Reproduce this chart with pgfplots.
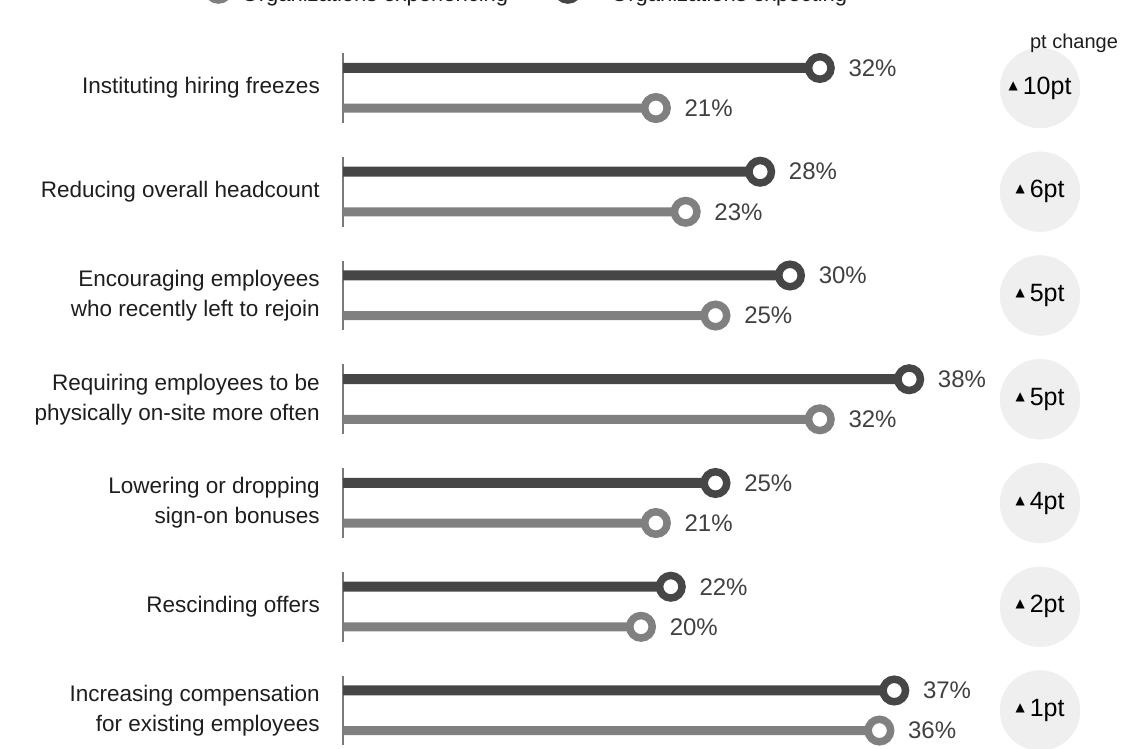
\documentclass[border=0pt]{standalone}
\usepackage{pgfplots}
\pgfplotsset{compat=1.18}
\usepackage{pgfplotstable}
\usepackage{graphicx}
\usepackage{fontspec}
\setmainfont{Liberation Sans}
\newfontfamily\dejavu{DejaVu Sans}
\definecolor{darkc}{HTML}{464646}
\definecolor{greyc}{HTML}{808080}
\definecolor{axc}{HTML}{7A7A7A}
\definecolor{circc}{HTML}{EFEFEF}
\definecolor{labc}{HTML}{1E1E1E}
\definecolor{pctc}{HTML}{404040}
\newcommand\tri{\raisebox{5pt}{\dejavu\fontsize{12}{12}\selectfont ▲}\hspace{5pt}}

\pgfplotstableread{
k now prev chg
0 32 21 10
1 28 23 6
2 30 25 5
3 38 32 5
4 25 21 4
5 22 20 2
6 37 36 1
}\datatable

\begin{document}
\begin{tikzpicture}
\path[use as bounding box] (0pt,0pt) rectangle (1121pt,-749pt);
\clip (0pt,0pt) rectangle (1121pt,-749pt);
\begin{axis}[
  at={(343pt,0pt)}, anchor=north west,
  scale only axis, width=745pt, height=749pt,
  xmin=0, xmax=50, ymin=-0.848, ymax=6.371, y dir=reverse,
  clip=false,
  /pgf/number format/assume math mode=true,
  axis line style={draw=none}, tick style={draw=none}, ytick style={draw=none}, major tick length=0pt,
  xtick=\empty, ytick={0,...,6},
  yticklabels={Instituting hiring freezes, Reducing overall headcount,
    {Encouraging employees\\who recently left to rejoin},
    {Requiring employees to be\\physically on-site more often},
    {Lowering or dropping\\sign-on bonuses},
    Rescinding offers,
    {Increasing compensation\\for existing employees}},
  yticklabel style={align=right, font=\fontsize{22.5}{30}\selectfont, text=labc, inner sep=0pt, xshift=-23pt},
  legend columns=2,
  legend style={at={(axis description cs:-0.1826,1.0120)}, anchor=west, draw=none, fill=none,
    inner sep=0pt, font=\fontsize{22}{26}\selectfont, text=labc,
    /tikz/every even column/.append style={column sep=0pt}},
  legend image code/.code={\draw[#1] plot coordinates {(0pt,5pt)};},
]
% axis segments per group
\addplot[draw=none, mark=none, forget plot,
  error bars/.cd, y dir=both, y fixed=0.337, error mark=none,
  error bar style={draw=axc, line width=2.5pt}]
  table[x expr=0, y=k]{\datatable};
% pt change circles
\addplot[only marks, mark=*, mark size=40pt, color=circc, mark options={fill=circc, draw=circc}, forget plot,
  point meta=explicit, nodes near coords={\tri\pgfmathprintnumber{\pgfplotspointmeta}pt},
  nodes near coords style={anchor=center, inner sep=0pt, font=\fontsize{25}{25}\selectfont, text=black}]
  table[x expr=46.78, y=k, meta=chg]{\datatable};
% bars
\addplot[xbar, bar width=9pt, bar shift=0pt, fill=greyc, draw=none, forget plot]
  table[x=prev, y expr=\thisrow{k}+0.193]{\datatable};
\addplot[xbar, bar width=10pt, bar shift=0pt, fill=darkc, draw=none, forget plot]
  table[x=now, y expr=\thisrow{k}-0.193]{\datatable};
% markers
\addplot[only marks, mark=*, mark size=11.25pt, mark options={draw=greyc, fill=white, line width=7.5pt},
  point meta=x, nodes near coords={\pgfmathprintnumber{\pgfplotspointmeta}\%},
  nodes near coords style={anchor=west, xshift=25pt, inner sep=0pt, font=\fontsize{24}{24}\selectfont, text=pctc}]
  table[x=prev, y expr=\thisrow{k}+0.193]{\datatable};
\addlegendentry{\makebox[323pt][l]{\hspace*{10pt}Organizations experiencing}}
\addplot[only marks, mark=*, mark size=11.25pt, mark options={draw=darkc, fill=white, line width=7.5pt},
  point meta=x, nodes near coords={\pgfmathprintnumber{\pgfplotspointmeta}\%},
  nodes near coords style={anchor=west, xshift=25pt, inner sep=0pt, font=\fontsize{24}{24}\selectfont, text=pctc}]
  table[x=now, y expr=\thisrow{k}-0.193]{\datatable};
\addlegendentry{\hspace*{30pt}Organizations expecting}
\end{axis}
\node[anchor=base, font=\fontsize{20}{20}\selectfont, text=labc, inner sep=0pt] at (1074pt,-49pt) {pt change};
\end{tikzpicture}
\end{document}
